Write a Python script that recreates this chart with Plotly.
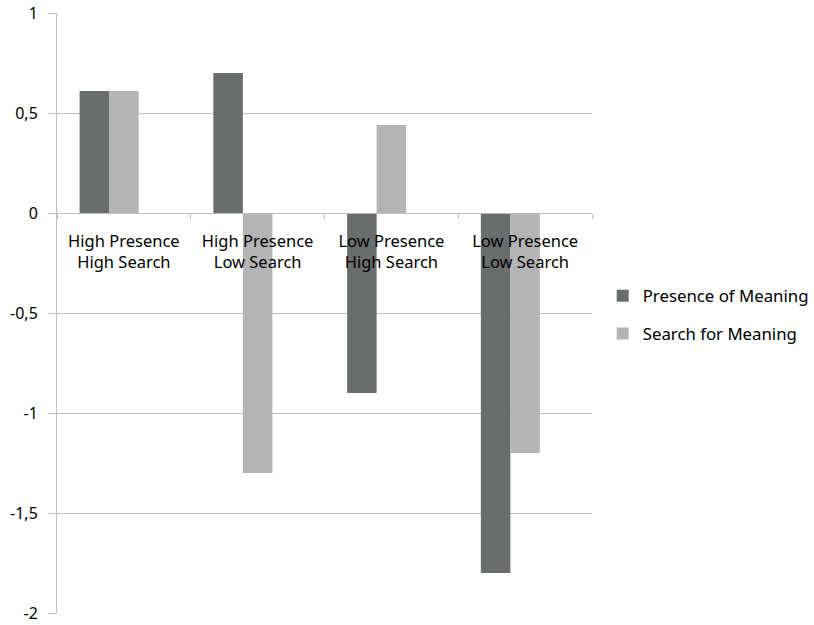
import plotly.graph_objects as go

categories = [
    "High Presence<br>High Search",
    "High Presence<br>Low Search",
    "Low Presence<br>High Search",
    "Low Presence<br>Low Search",
]
presence = [0.61, 0.70, -0.90, -1.80]
search = [0.61, -1.30, 0.44, -1.20]
# empty third series slot (keeps the Excel-style group layout)
spare = [None, None, None, None]

y_tick_values = [-2, -1.5, -1, -0.5, 0, 0.5, 1]
y_tick_labels = ["-2", "-1,5", "-1", "-0,5", "0", "0,5", "1"]

dark = "#6a6d6d"
light = "#b4b4b6"
grid = "#bfbfbf"
font_family = "Noto Sans, Open Sans, sans-serif"

fig = go.Figure()
fig.add_trace(go.Bar(x=categories, y=presence, name="Presence of Meaning",
                     marker=dict(color=dark, line=dict(width=0)),
                     legendgroup="p"))
fig.add_trace(go.Bar(x=categories, y=search, name="Search for Meaning",
                     marker=dict(color=light, line=dict(width=0)),
                     legendgroup="s"))
fig.add_trace(go.Bar(x=categories, y=spare, name="", showlegend=False,
                     hoverinfo="skip"))

y_min, y_max = -2, 1

fig.update_layout(
    width=814, height=625,
    margin=dict(l=57, r=222, t=13, b=12, autoexpand=False),
    paper_bgcolor="white", plot_bgcolor="white",
    barmode="group",
    bargap=0.338, bargroupgap=0,
    font=dict(family=font_family, size=16, color="#000000"),
    showlegend=True,
    legend=dict(
        x=1.02, y=0.497, xanchor="left", yanchor="middle",
        traceorder="grouped", tracegroupgap=13,
        font=dict(size=16.8, color="#000000"),
        itemwidth=30,
    ),
    xaxis=dict(
        type="category",
        anchor="free",
        position=(0 - y_min) / (y_max - y_min),
        automargin=False,
        showline=True, linecolor=grid, linewidth=1,
        ticks="outside", tickson="boundaries", ticklen=5,
        tickcolor=grid, tickwidth=1,
        ticklabelstandoff=13,
        showgrid=False,
        tickfont=dict(size=16.5, color="#000000"),
    ),
    yaxis=dict(
        range=[y_min, y_max],
        tickmode="array", tickvals=y_tick_values, ticktext=y_tick_labels,
        automargin=False,
        showgrid=True, gridcolor=grid, gridwidth=1,
        zeroline=False,
        showline=True, linecolor=grid, linewidth=1,
        ticks="outside", ticklen=7, tickcolor=grid,
        ticklabelstandoff=8,
        tickfont=dict(size=16, color="#000000"),
    ),
)

fig.write_html("out.html")
